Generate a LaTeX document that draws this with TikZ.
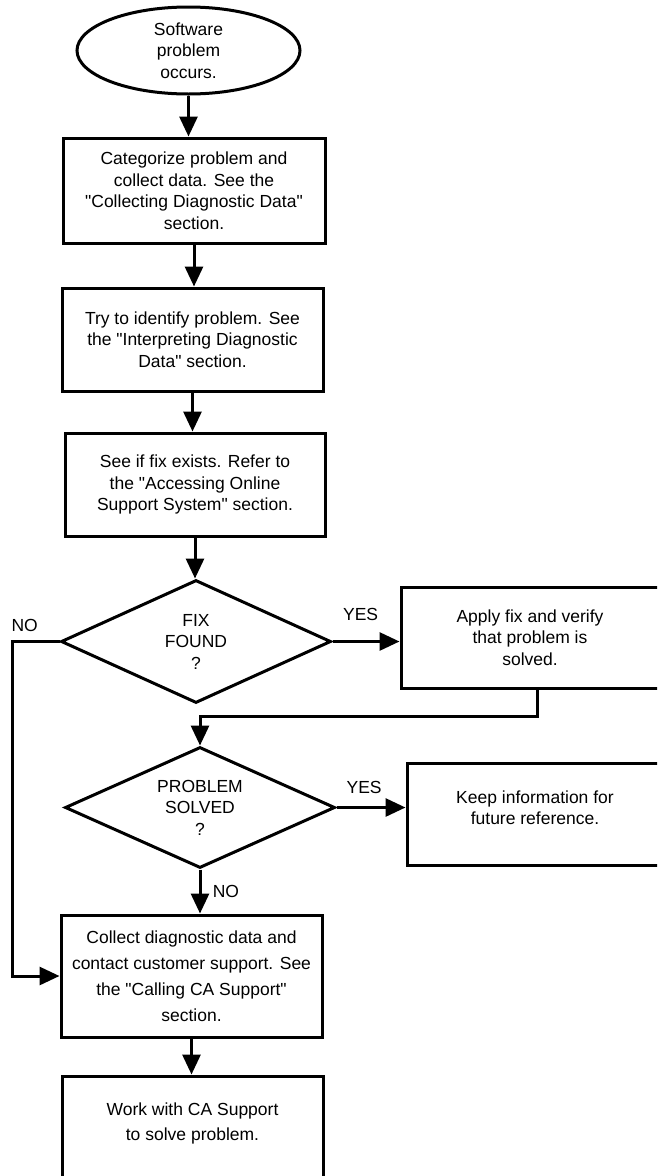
\documentclass[tikz,border=0pt]{standalone}
\usepackage{fontspec}
\setmainfont{Liberation Sans}
\usetikzlibrary{shapes.geometric,arrows.meta}
\newcommand{\qt}{\textquotedbl}

\begin{document}
\begin{tikzpicture}[x=1pt,y=-1pt,
  every node/.style={font=\fontsize{17.5}{21.5}\selectfont},
  box/.style={draw, line width=3pt, inner sep=0pt, align=center, minimum width=261pt, minimum height=103pt},
  test/.style={draw, diamond, aspect=2.2, line width=3pt, inner sep=0pt, align=center, minimum width=270pt, minimum height=122pt},
  lowtext/.style={text depth=12.5pt},
  wide/.style={font=\fontsize{17.5}{26}\selectfont},
  arr/.style={line width=3pt, -{Triangle[length=20pt,width=18pt]}}]
\useasboundingbox (0,0) rectangle (657,1176);
\clip (0,0) rectangle (657,1176);
\node[draw, ellipse, line width=3pt, inner sep=0pt, align=center, minimum width=223pt, minimum height=87pt] (start) at (188.5,50.5) {Software\\problem\\occurs.};
\node[box, minimum width=262pt, minimum height=105pt] (categorize) at (194,190.5) {Categorize problem and\\collect data. See the\\\qt Collecting Diagnostic Data\qt\\section.};
\node[box] (identify) at (192.5,339.5) {Try to identify problem. See\\the \qt Interpreting Diagnostic\\Data\qt{} section.};
\node[box, minimum width=260pt] (lookup) at (195,484.5) {See if fix exists. Refer to\\the \qt Accessing Online\\Support System\qt{} section.};
\node[test, minimum height=123pt] (fix) at (196,641.5) {FIX\\FOUND\\?};
\node[box, minimum width=258pt, minimum height=101pt] (apply) at (530,637.5) {Apply fix and verify\\that problem is\\solved.};
\node[test, minimum height=121pt] (solved) at (200,807.5) {PROBLEM\\SOLVED\\?};
\node[box, lowtext, minimum width=256pt, minimum height=102pt] (keep) at (535,814) {Keep information for\\future reference.};
\node[box, wide, minimum height=122pt] (collect) at (191.5,976) {Collect diagnostic data and\\contact customer support. See\\the \qt Calling CA Support\qt\\section.};
\node[box, wide, lowtext, font=\fontsize{17.5}{25}\selectfont, minimum height=104pt] (work) at (192.5,1128) {Work with CA Support\\to solve problem.};

\draw[arr] (start.south) -- (start.south |- categorize.north);
\draw[arr] (categorize.south) -- (categorize.south |- identify.north);
\draw[arr] (identify.south) -- (identify.south |- lookup.north);
\draw[arr] (lookup.south) -- (lookup.south |- fix.north);
\draw[arr] (fix.east) -- (fix.east -| apply.west) node[pos=0.42, above=16pt] {YES};
\draw[arr] (fix.west) -- ++(-47,0) node[pos=0.74, above=5pt] {NO} |- (collect.west);
\draw[arr] ([xshift=7pt]apply.south) -- ++(0,27) -| (solved.north);
\draw[arr] (solved.east) -- (solved.east -| keep.west) node[pos=0.4, above=9pt] {YES};
\draw[arr] (solved.south) -- (solved.south |- collect.north) node[midway, right=8pt] {NO};
\draw[arr] (collect.south) -- (collect.south |- work.north);
\end{tikzpicture}
\end{document}
